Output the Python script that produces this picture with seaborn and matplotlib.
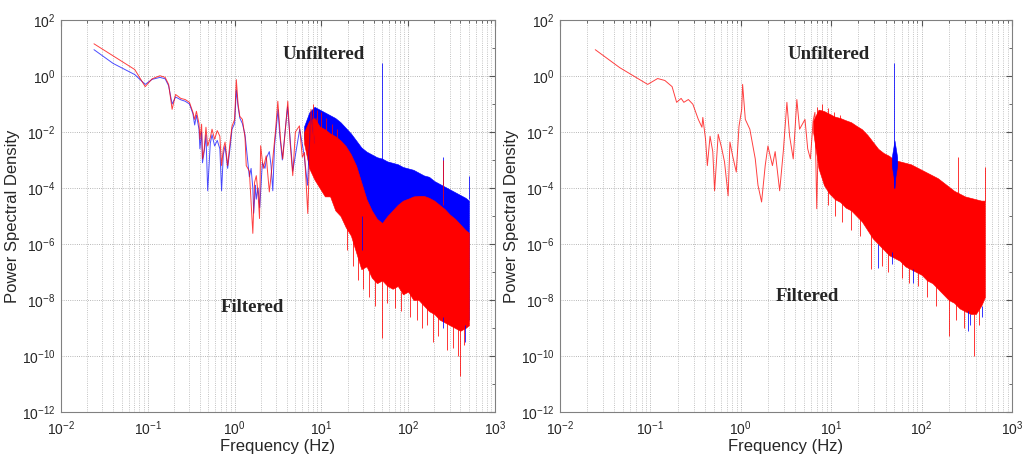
import numpy as np
import matplotlib
matplotlib.use("Agg")
import matplotlib.pyplot as plt
import seaborn as sns
import pandas as pd
from matplotlib.ticker import LogLocator, NullFormatter, FixedLocator

# ---- Data (log10 frequency, log10 PSD) ----
# left panel, low-frequency part (lines)
left_red_logf = [-1.62, -1.40, -1.15, -1.03, -0.95, -0.86, -0.80, -0.76, -0.72, -0.68, -0.62, -0.57,
                 -0.52, -0.48, -0.46, -0.44, -0.41, -0.40, -0.38, -0.37, -0.35, -0.33, -0.31, -0.28,
                 -0.26, -0.23, -0.20, -0.17, -0.15, -0.13, -0.11, -0.08, -0.05, -0.03, 0.00, 0.02,
                 0.04, 0.06, 0.09, 0.12, 0.134, 0.17, 0.21, 0.23, 0.25, 0.27, 0.287, 0.30, 0.33,
                 0.364, 0.40, 0.44, 0.47, 0.498, 0.53, 0.555, 0.613, 0.64, 0.67, 0.70, 0.747, 0.78,
                 0.805, 0.843, 0.88, 0.92, 0.95]
left_red_logp = [1.15, 0.72, 0.23, -0.38, -0.10, 0.01, -0.05, -0.30, -1.19, -0.66, -0.80, -0.84,
                 -0.94, -1.30, -1.55, -1.26, -1.70, -2.26, -1.72, -2.96, -2.6, -1.83, -2.5, -2.2,
                 -1.9, -2.26, -1.95, -2.15, -3.2, -2.6, -2.36, -3.2, -2.3, -1.8, -1.55, -0.13,
                 -1.0, -1.44, -1.55, -2.2, -3.2, -3.4, -5.62, -3.8, -3.56, -4.2, -5.09, -2.49, -3.3,
                 -2.85, -4.14, -2.96, -2.0, -0.9, -2.3, -2.96, -0.9, -2.4, -3.56, -2.0, -1.78, -2.9,
                 -2.73, -4.91, -1.19, -2.49, -1.5]

left_blue_logf = [-1.62, -1.40, -1.15, -1.03, -0.95, -0.86, -0.80, -0.76, -0.72, -0.68, -0.62, -0.57,
                  -0.52, -0.48, -0.46, -0.44, -0.41, -0.40, -0.38, -0.37, -0.35, -0.33, -0.31, -0.28,
                  -0.26, -0.23, -0.20, -0.17, -0.15, -0.13, -0.11, -0.08, -0.05, -0.03, 0.00, 0.02,
                  0.04, 0.06, 0.09, 0.12, 0.14, 0.17, 0.19, 0.21, 0.22, 0.24, 0.25, 0.27, 0.29, 0.31,
                  0.32, 0.35, 0.37, 0.40, 0.42, 0.44, 0.46, 0.50, 0.52, 0.55, 0.61, 0.67, 0.75, 0.80,
                  0.84, 0.88, 0.92]
left_blue_logp = [0.94, 0.45, 0.05, -0.30, -0.12, -0.05, -0.10, -0.35, -1.0, -0.75, -0.85, -0.90,
                  -1.0, -1.35, -1.75, -1.4, -1.9, -2.6, -2.0, -3.1, -2.7, -2.1, -4.1, -2.4,
                  -2.1, -2.5, -2.3, -2.6, -4.1, -2.8, -2.5, -3.3, -2.5, -1.9, -1.7, -0.5,
                  -1.1, -1.5, -1.7, -2.1, -2.7, -3.6, -3.3, -4.0, -4.9, -3.9, -4.4, -4.0, -4.7, -3.6,
                  -3.1, -3.3, -2.9, -2.7, -3.2, -4.1, -2.5, -1.2, -2.1, -3.0, -1.1, -3.4, -1.9, -2.8,
                  -3.9, -1.3, -2.4]

# left panel, dense part (bands)
left_band_logf = [0.80, 0.86, 0.92, 0.98, 1.04, 1.10, 1.16, 1.22, 1.28, 1.34, 1.40, 1.46, 1.52, 1.58,
                  1.64, 1.70, 1.76, 1.82, 1.88, 1.94, 2.00, 2.06, 2.12, 2.18, 2.24, 2.30, 2.36, 2.42,
                  2.48, 2.54, 2.60, 2.66, 2.70]
left_blue_hi = [-1.8, -1.3, -1.1, -1.2, -1.3, -1.4, -1.5, -1.65, -1.85, -2.05, -2.3, -2.55, -2.7, -2.8,
                -2.9, -2.95, -3.05, -3.1, -3.15, -3.25, -3.3, -3.35, -3.45, -3.55, -3.6, -3.75, -3.85,
                -3.95, -4.05, -4.15, -4.25, -4.35, -4.45]
left_blue_lo = [-2.2, -3.1, -3.5, -3.8, -4.1, -4.1, -4.6, -4.8, -5.2, -5.5, -6.1, -6.7, -6.6, -7.0,
                -7.2, -7.1, -7.3, -7.4, -7.3, -7.6, -7.5, -7.8, -7.8, -8.0, -8.2, -8.3, -8.5, -8.6,
                -8.7, -8.8, -8.9, -8.8, -8.7]
left_red_hi = [-2.0, -1.6, -1.5, -1.8, -1.9, -2.05, -2.15, -2.3, -2.5, -2.8, -3.2, -3.8, -4.4, -4.8,
               -5.1, -5.25, -5.0, -4.8, -4.6, -4.45, -4.38, -4.3, -4.28, -4.28, -4.35, -4.45, -4.6,
               -4.75, -4.95, -5.1, -5.3, -5.5, -5.6]
left_red_lo = [-2.4, -3.3, -3.7, -4.0, -4.3, -4.3, -4.8, -5.0, -5.4, -5.7, -6.3, -6.9, -6.8, -7.2,
               -7.4, -7.3, -7.5, -7.6, -7.5, -7.8, -7.7, -8.0, -8.0, -8.2, -8.4, -8.5, -8.7, -8.8,
               -8.9, -9.0, -9.1, -9.0, -8.9]

# right panel, low-frequency part
right_red_logf = [-1.61, -1.34, -1.03, -0.92, -0.84, -0.76, -0.71, -0.66, -0.63, -0.58, -0.53, -0.47,
                  -0.43, -0.42, -0.39, -0.37, -0.34, -0.31, -0.29, -0.25, -0.21, -0.18, -0.14, -0.12,
                  -0.09, -0.05, -0.02, 0.01, 0.02, 0.05, 0.10, 0.16, 0.19, 0.23, 0.27, 0.30, 0.35,
                  0.38, 0.43, 0.47, 0.51, 0.54, 0.58, 0.62, 0.65, 0.71, 0.74, 0.77, 0.80, 0.82, 0.84,
                  0.86, 0.88, 0.90]
right_red_logp = [0.94, 0.30, -0.30, -0.09, -0.16, -0.38, -0.94, -0.80, -0.94, -0.84, -1.01, -1.55,
                  -1.83, -1.48, -2.26, -3.2, -2.15, -2.7, -4.1, -2.08, -2.6, -3.07, -4.28, -2.36,
                  -2.86, -3.43, -1.8, -1.19, -0.30, -1.55, -1.9, -2.96, -3.9, -4.5, -3.2, -2.5, -3.2,
                  -2.7, -4.1, -2.7, -0.94, -2.15, -2.96, -0.84, -1.9, -1.55, -2.6, -2.96, -1.6, -1.3,
                  -4.74, -1.8, -3.3, -1.4]

# right panel, dense part
right_band_logf = [0.80, 0.86, 0.92, 0.98, 1.04, 1.10, 1.16, 1.22, 1.28, 1.34, 1.40, 1.46, 1.52, 1.58,
                   1.64, 1.70, 1.76, 1.82, 1.88, 1.94, 2.00, 2.06, 2.12, 2.18, 2.24, 2.30, 2.36, 2.42,
                   2.48, 2.54, 2.60, 2.66, 2.70]
right_red_hi = [-1.6, -1.2, -1.25, -1.35, -1.45, -1.5, -1.58, -1.65, -1.78, -1.9, -2.1, -2.35, -2.6,
                -2.75, -2.85, -3.0, -3.05, -3.1, -3.15, -3.25, -3.35, -3.45, -3.55, -3.65, -3.8,
                -3.95, -4.1, -4.2, -4.3, -4.35, -4.4, -4.45, -4.45]
right_red_lo = [-2.0, -3.3, -3.9, -4.2, -4.4, -4.5, -4.7, -4.8, -5.0, -5.2, -5.5, -5.8, -6.0, -6.2,
                -6.4, -6.5, -6.6, -6.8, -6.9, -7.0, -7.1, -7.3, -7.4, -7.6, -7.8, -8.0, -8.1, -8.3,
                -8.4, -8.5, -8.5, -8.2, -7.9]
# blue cluster around the 50 Hz line (right panel)
right_blue_logf = [1.67, 1.69, 1.70, 1.71, 1.73]
right_blue_hi = [-2.9, -2.5, -2.3, -2.5, -2.9]
right_blue_lo = [-3.2, -3.6, -4.0, -3.6, -3.2]

# isolated spikes: (log10 f, low, high, colour)
left_spikes = [(1.699, -3.0, 0.48, "b"), (2.398, -3.9, -2.9, "b"), (2.699, -4.4, -3.56, "b"),
               (1.47, -6.2, -5.0, "b"), (2.40, -9.0, -8.6, "b"), (2.66, -9.5, -8.9, "b"),
               (2.398, -4.6, -3.0, "r"),
               (0.90, -2.5, -1.0, "r"), (0.95, -2.6, -1.2, "r"), (1.00, -2.6, -1.3, "r"),
               (1.05, -2.6, -1.5, "r"), (1.12, -2.8, -1.7, "r"), (1.18, -3.0, -1.9, "r"),
               (1.30, -6.2, -5.2, "r"), (1.36, -6.8, -5.6, "r"), (1.42, -7.3, -6.2, "r"),
               (1.48, -7.6, -6.8, "r"), (1.55, -7.9, -7.0, "r"), (1.62, -8.2, -7.3, "r"),
               (1.70, -9.35, -7.3, "r"), (1.75, -8.1, -7.4, "r"), (1.85, -8.3, -7.5, "r"),
               (1.92, -8.4, -7.7, "r"), (2.02, -8.6, -7.7, "r"), (2.10, -8.7, -8.0, "r"),
               (2.16, -9.0, -8.1, "r"), (2.22, -8.9, -8.3, "r"), (2.28, -9.5, -8.4, "r"),
               (2.34, -9.3, -8.6, "r"), (2.45, -9.8, -8.8, "r"), (2.52, -9.7, -8.9, "r"),
               (2.57, -10.0, -9.0, "r"), (2.60, -10.7, -9.0, "r"), (2.64, -9.6, -9.0, "r")]
right_spikes = [(1.699, -4.0, 0.48, "b"), (1.52, -6.87, -6.0, "b"), (1.67, -6.7, -6.3, "b"),
                (1.90, -7.4, -6.9, "b"), (2.51, -9.1, -8.4, "b"), (2.54, -8.9, -8.5, "b"),
                (2.67, -8.6, -8.2, "b"),
                (2.398, -4.3, -2.9, "r"), (2.699, -4.45, -3.25, "r"),
                (0.84, -2.5, -1.1, "r"), (0.90, -2.4, -1.0, "r"), (0.97, -2.4, -1.15, "r"),
                (1.03, -2.5, -1.3, "r"), (1.10, -2.6, -1.4, "r"),
                (0.96, -4.6, -4.0, "r"), (1.04, -5.0, -4.3, "r"), (1.12, -5.2, -4.4, "r"),
                (1.22, -5.5, -4.7, "r"), (1.32, -5.7, -5.0, "r"), (1.44, -6.9, -5.6, "r"),
                (1.56, -6.8, -6.0, "r"), (1.63, -7.0, -6.3, "r"), (1.78, -7.2, -6.6, "r"),
                (1.86, -7.4, -6.8, "r"), (1.96, -7.5, -7.0, "r"), (2.06, -7.9, -7.2, "r"),
                (2.16, -8.2, -7.5, "r"), (2.30, -9.3, -7.9, "r"), (2.38, -8.7, -8.1, "r"),
                (2.47, -9.0, -8.3, "r"), (2.58, -10.0, -8.5, "r"), (2.64, -8.9, -8.3, "r")]

ticks_y = [-12, -10, -8, -6, -4, -2, 0, 2]

RED = "#ff0000"
BLUE = "#0000ff"

sns.set_style("white")
plt.rcParams["font.family"] = ["Liberation Sans", "DejaVu Sans"]

fig = plt.figure(figsize=(10.24, 4.55), dpi=100)
ax1 = fig.add_axes([61 / 1024, 43 / 455, 434 / 1024, 392 / 455])
ax2 = fig.add_axes([560 / 1024, 43 / 455, 452 / 1024, 392 / 455])


def to_df(logf, logp):
    return pd.DataFrame({"f": 10.0 ** np.array(logf), "p": 10.0 ** np.array(logp)})


def band(ax, logf, hi, lo, color):
    f = 10.0 ** np.array(logf)
    ax.fill_between(f, 10.0 ** np.array(lo), 10.0 ** np.array(hi), color=color, lw=0.4,
                    edgecolor=color)


def spikes(ax, sp):
    for lf, lo, hi, c in sp:
        col = BLUE if c == "b" else RED
        ax.vlines(10 ** lf, 10 ** lo, 10 ** hi, color=col, lw=0.7, alpha=0.8)


for ax in (ax1, ax2):
    ax.set_xscale("log")
    ax.set_yscale("log")

# left panel
sns.lineplot(data=to_df(left_blue_logf, left_blue_logp), x="f", y="p", ax=ax1, color=BLUE,
             lw=0.7, alpha=0.7, sort=False, estimator=None)
sns.lineplot(data=to_df(left_red_logf, left_red_logp), x="f", y="p", ax=ax1, color=RED,
             lw=0.7, alpha=0.75, sort=False, estimator=None)
band(ax1, left_band_logf, left_blue_hi, left_blue_lo, BLUE)
band(ax1, left_band_logf, left_red_hi, left_red_lo, RED)
spikes(ax1, left_spikes)

# right panel
sns.lineplot(data=to_df(right_red_logf, right_red_logp), x="f", y="p", ax=ax2, color=RED,
             lw=0.7, alpha=0.75, sort=False, estimator=None)
band(ax2, right_band_logf, right_red_hi, right_red_lo, RED)
band(ax2, right_blue_logf, right_blue_hi, right_blue_lo, BLUE)
spikes(ax2, right_spikes)

for ax in (ax1, ax2):
    ax.set_xlim(1e-2, 1e3)
    ax.set_ylim(1e-12, 1e2)
    ax.yaxis.set_major_locator(FixedLocator([10.0 ** t for t in ticks_y]))
    ax.yaxis.set_minor_locator(FixedLocator([10.0 ** (t + 1) for t in ticks_y[:-1]]))
    ax.yaxis.set_minor_formatter(NullFormatter())
    ax.xaxis.set_major_locator(LogLocator(base=10, numticks=10))
    ax.xaxis.set_minor_locator(LogLocator(base=10, subs=np.arange(2, 10), numticks=20))
    ax.xaxis.set_minor_formatter(NullFormatter())
    ax.grid(which="major", axis="both", ls=":", lw=0.6, color="#a0a0a0")
    ax.grid(which="minor", axis="x", ls=":", lw=0.6, color="#b0b0b0")
    ax.tick_params(which="both", direction="in", top=True, right=True, labelsize=10,
                   color="#555555")
    ax.tick_params(which="major", length=4)
    ax.tick_params(which="minor", length=2)
    ax.tick_params(axis="x", pad=5)
    ax.tick_params(axis="y", pad=4)
    for s in ax.spines.values():
        s.set_color("#808080")
        s.set_linewidth(0.8)
    ax.set_xlabel("Frequency (Hz)", fontsize=12, labelpad=1)
    ax.set_ylabel("Power Spectral Density", fontsize=12, labelpad=1)

serif = dict(fontsize=13.5, fontweight="bold", family=["Liberation Serif", "DejaVu Serif"],
             ha="center", va="center")
ax1.text(10.7, 5.7, "Unfiltered", **serif)
ax1.text(1.62, 10 ** -8.28, "Filtered", **serif)
ax2.text(9.4, 5.7, "Unfiltered", **serif)
ax2.text(5.4, 10 ** -7.86, "Filtered", **serif)

plt.savefig("out.png", dpi=100)
